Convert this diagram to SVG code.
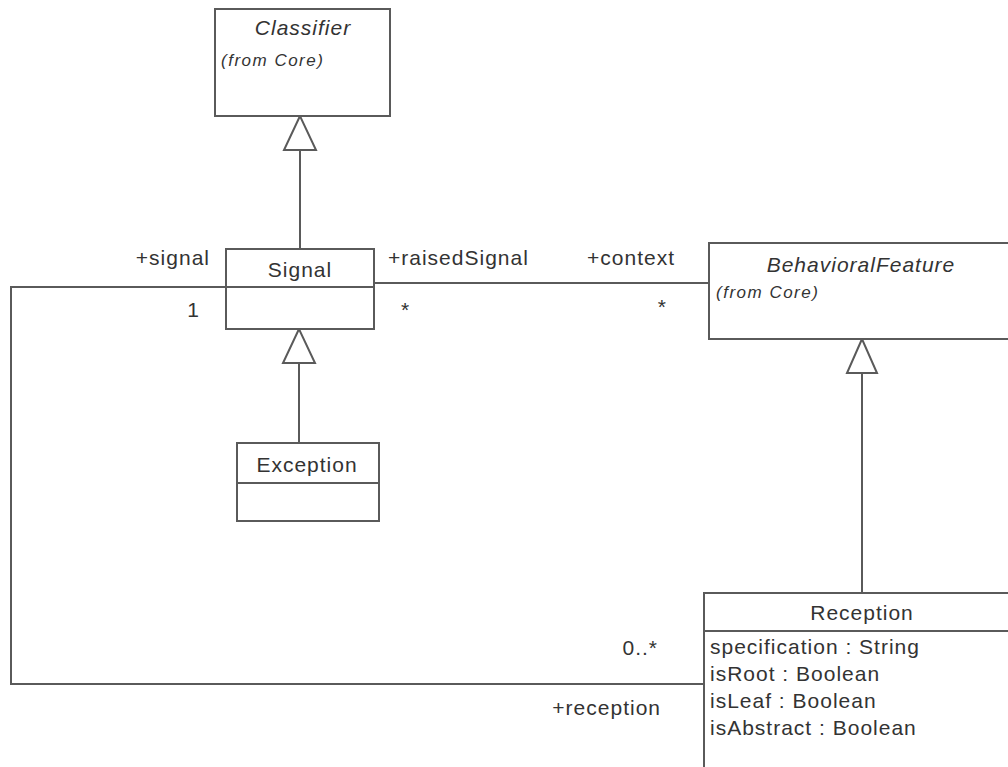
<svg xmlns="http://www.w3.org/2000/svg" width="1008" height="767" viewBox="0 0 1008 767">
  <style>
    .box { fill: #ffffff; stroke: #5a5a5a; stroke-width: 2; }
    .ln { fill: none; stroke: #5a5a5a; stroke-width: 2; }
    .tri { fill: #ffffff; stroke: #5a5a5a; stroke-width: 2; stroke-linejoin: miter; }
    text { font-family: "Liberation Sans", Arial, sans-serif; font-size: 21px; fill: #333333; letter-spacing: 1px; }
    .it { font-style: italic; }
    .pkg { font-style: italic; font-size: 17px; letter-spacing: 1.5px; }
    .mid { text-anchor: middle; }
    .end { text-anchor: end; }
  </style>
  <rect width="1008" height="767" fill="#ffffff"/>

  <!-- associations and generalizations -->
  <g id="connectors">
    <!-- Signal -> Classifier -->
    <line class="ln" x1="300" y1="150" x2="300" y2="249"/>
    <polygon class="tri" points="300,116 284,150 316,150"/>
    <!-- Exception -> Signal -->
    <line class="ln" x1="299" y1="363" x2="299" y2="443"/>
    <polygon class="tri" points="299,329 283,363 315,363"/>
    <!-- Reception -> BehavioralFeature -->
    <line class="ln" x1="862" y1="373" x2="862" y2="593"/>
    <polygon class="tri" points="862,339 847,373 877,373"/>
    <!-- Signal raisedSignal / context BehavioralFeature -->
    <line class="ln" x1="374" y1="283" x2="709" y2="283"/>
    <!-- Signal signal / reception Reception -->
    <polyline class="ln" points="226,287 11,287 11,684 704,684"/>

    <text x="210" y="265" class="end">+signal</text>
    <text x="200" y="317" class="end">1</text>
    <text x="388" y="265">+raisedSignal</text>
    <text x="401" y="317">*</text>
    <text x="675" y="265" class="end">+context</text>
    <text x="667" y="314" class="end">*</text>
    <text x="658" y="655" class="end">0..*</text>
    <text x="661" y="715" class="end">+reception</text>
  </g>

  <g id="classifier">
    <rect class="box" x="215" y="9" width="175" height="107"/>
    <text x="303" y="35" class="it mid">Classifier</text>
    <text x="221" y="66" class="pkg">(from Core)</text>
  </g>

  <g id="signal">
    <rect class="box" x="226" y="249" width="148" height="80"/>
    <line class="ln" x1="226" y1="287" x2="374" y2="287"/>
    <text x="300" y="277" class="mid">Signal</text>
  </g>

  <g id="exception">
    <rect class="box" x="237" y="443" width="142" height="78"/>
    <line class="ln" x1="237" y1="483" x2="379" y2="483"/>
    <text x="307" y="472" class="mid">Exception</text>
  </g>

  <g id="behavioral-feature">
    <rect class="box" x="709" y="243" width="310" height="96"/>
    <text x="861" y="272" class="it mid">BehavioralFeature</text>
    <text x="716" y="298" class="pkg">(from Core)</text>
  </g>

  <g id="reception">
    <rect class="box" x="704" y="593" width="315" height="190"/>
    <line class="ln" x1="704" y1="631" x2="1008" y2="631"/>
    <text x="862" y="620" class="mid">Reception</text>
    <text x="710" y="654">specification : String</text>
    <text x="710" y="681">isRoot : Boolean</text>
    <text x="710" y="708">isLeaf : Boolean</text>
    <text x="710" y="735">isAbstract : Boolean</text>
  </g>
</svg>
